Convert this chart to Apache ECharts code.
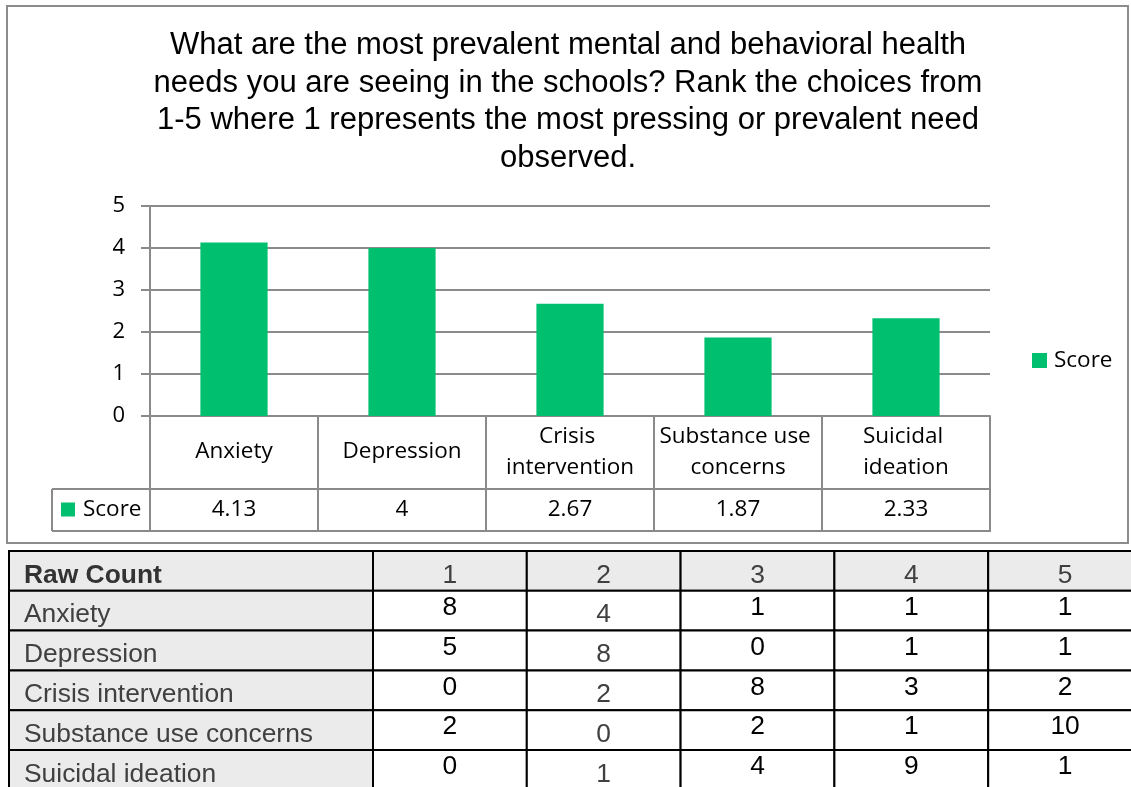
<!DOCTYPE html>
<html>
<head>
<meta charset="utf-8">
<title>Mental and behavioral health needs</title>
<script src="https://cdn.jsdelivr.net/npm/echarts@6/dist/echarts.min.js"></script>
<style>
  html, body { margin: 0; padding: 0; background: #fff; }
  #chart { width: 1131px; height: 787px; }
</style>
</head>
<body>
<div id="chart"></div>
<script>
// ---- data ----
const titleText = 'What are the most prevalent mental and behavioral health\n' +
  'needs you are seeing in the schools? Rank the choices from\n' +
  '1-5 where 1 represents the most pressing or prevalent need\n' +
  'observed.';
const categories = ['Anxiety', 'Depression', 'Crisis intervention', 'Substance use concerns', 'Suicidal ideation'];
const scores = [4.13, 4, 2.67, 1.87, 2.33];
const scoreTicks = [0, 1, 2, 3, 4, 5];

const rawHeader = 'Raw Count';
const rankLabels = ['1', '2', '3', '4', '5'];
const rawRows = ['Anxiety', 'Depression', 'Crisis intervention', 'Substance use concerns', 'Suicidal ideation'];
const rawAnxiety = [8, 4, 1, 1, 1];
const rawDepression = [5, 8, 0, 1, 1];
const rawCrisis = [0, 2, 8, 3, 2];
const rawSubstance = [2, 0, 2, 1, 10];
const rawSuicidal = [0, 1, 4, 9, 1];
const rawCounts = [rawAnxiety, rawDepression, rawCrisis, rawSubstance, rawSuicidal];

// ---- layout / style ----
const W = 1131, H = 787;
const GREEN = '#00BF6F';
const GRID_GRAY = '#8a8a8a';
const CHART_FONT = "'Open Sans', 'Noto Sans', sans-serif";
const TABLE_FONT = "'Liberation Sans', Arial, sans-serif";

const PLOT = { left: 150, top: 206, width: 840, height: 210 };
const NAME_ROW_H = 73;   // category-name row of the data table
const VALUE_ROW_H = 42;  // score row of the data table
const KEY_CELL_LEFT = 52;

// raw-count table: the last column runs past the right edge of the page
const RAW_LEFT = 373, RAW_TOP = 551;
const RAW_COL_W = 153.8, RAW_ROW_H = 39.8;
const LABEL_COL_W = 364;

// cells of the raw-count table, header row first
const cells = [];
cells.push({ c: 0, r: 0, text: rawHeader, label: true, header: true });
rankLabels.forEach((t, i) => cells.push({ c: i, r: 0, text: t, soft: true }));
rawRows.forEach((name, ri) => {
  cells.push({ c: 0, r: ri + 1, text: name, label: true });
  rawCounts[ri].forEach((v, ci) => cells.push({ c: ci, r: ri + 1, text: String(v), soft: ci === 1 }));
});

const chart = echarts.init(document.getElementById('chart'));

const PLOT_BOTTOM = PLOT.top + PLOT.height;
const PLOT_RIGHT = PLOT.left + PLOT.width;

const option = {
  backgroundColor: '#fff',
  animation: false,
  title: {
    text: titleText,
    left: 568,
    top: 27,
    textAlign: 'center',
    padding: 0,
    textStyle: {
      fontFamily: TABLE_FONT,
      fontSize: 31,
      fontWeight: 'normal',
      lineHeight: 37.5,
      color: '#000'
    }
  },
  legend: [
    {
      data: ['Score'],
      left: 1032,
      top: 348.5,
      padding: 0,
      icon: 'rect',
      itemWidth: 15,
      itemHeight: 15,
      textStyle: { fontFamily: CHART_FONT, fontSize: 22.5, lineHeight: 24, color: '#000', padding: [0, 0, 0, 2] }
    },
    {
      data: ['Score'],
      left: 61,
      top: 497.5,
      padding: 0,
      icon: 'rect',
      itemWidth: 14,
      itemHeight: 14,
      selectedMode: false,
      textStyle: { fontFamily: CHART_FONT, fontSize: 22.5, lineHeight: 24, color: '#000', padding: [0, 0, 0, 3] }
    }
  ],
  grid: [
    { left: PLOT.left, top: PLOT.top, width: PLOT.width, height: PLOT.height, containLabel: false },
    { left: RAW_LEFT, top: RAW_TOP, right: 0, bottom: 0, containLabel: false }
  ],
  xAxis: [
    {
      type: 'category',
      gridIndex: 0,
      data: categories,
      position: 'bottom',
      axisLine: { show: true, lineStyle: { color: GRID_GRAY, width: 2 } },
      axisTick: {
        show: true,
        interval: 0,
        length: NAME_ROW_H + VALUE_ROW_H,
        lineStyle: { color: GRID_GRAY, width: 2 }
      },
      axisLabel: {
        interval: 0,
        margin: 36,
        verticalAlign: 'middle',
        width: 158,
        overflow: 'break',
        lineHeight: 31,
        fontFamily: CHART_FONT,
        fontSize: 22.5,
        color: '#000'
      }
    },
    {
      type: 'category',
      gridIndex: 0,
      data: categories,
      position: 'bottom',
      axisLine: { show: false },
      axisTick: { show: false },
      axisLabel: {
        interval: 0,
        margin: NAME_ROW_H + VALUE_ROW_H / 2,
        verticalAlign: 'middle',
        fontFamily: CHART_FONT,
        fontSize: 22.5,
        color: '#000',
        formatter: (v, i) => String(scores[i])
      }
    },
    {
      // rank columns, one unit each, centred on 0..4
      type: 'value',
      gridIndex: 1,
      min: -0.5,
      max: -0.5 + (W - RAW_LEFT) / RAW_COL_W,
      show: false
    }
  ],
  yAxis: [
    {
      type: 'value',
      gridIndex: 0,
      min: scoreTicks[0],
      max: scoreTicks[scoreTicks.length - 1],
      interval: 1,
      axisLine: { show: true, lineStyle: { color: GRID_GRAY, width: 2 } },
      axisTick: { show: true, length: 9, lineStyle: { color: GRID_GRAY, width: 2 } },
      splitLine: { show: true, lineStyle: { color: GRID_GRAY, width: 2 } },
      axisLabel: {
        margin: 25,
        fontFamily: CHART_FONT,
        fontSize: 22,
        color: '#000'
      }
    },
    {
      // table rows: header at 0, then one row per need
      type: 'value',
      gridIndex: 1,
      inverse: true,
      min: -0.5,
      max: -0.5 + (H - RAW_TOP) / RAW_ROW_H,
      show: false
    }
  ],
  series: [
    {
      name: 'Score',
      type: 'bar',
      xAxisIndex: 0,
      yAxisIndex: 0,
      data: scores,
      barWidth: '40%',
      itemStyle: { color: GREEN }
    },
    {
      name: 'Raw Count',
      type: 'custom',
      xAxisIndex: 2,
      yAxisIndex: 1,
      silent: true,
      clip: false,
      data: cells.map(d => [d.c, d.r]),
      renderItem: function (params, api) {
        const d = cells[params.dataIndex];
        const w = api.size([1, 0])[0];
        const h = api.size([0, 1])[1];
        const ctr = api.coord([d.c, d.r]);
        let x0 = ctr[0] - w / 2;
        let cw = w;
        if (d.label) { x0 = x0 - LABEL_COL_W; cw = LABEL_COL_W; }
        const y0 = ctr[1] - h / 2;
        const shaded = d.label || d.r === 0;
        const soft = d.label || d.soft;
        return {
          type: 'group',
          children: [
            {
              type: 'rect',
              shape: { x: x0, y: y0, width: cw, height: h },
              style: { fill: shaded ? '#EBEBEB' : '#fff', stroke: '#000', lineWidth: 2 }
            },
            {
              type: 'text',
              style: {
                text: d.text,
                x: d.label ? x0 + 15 : ctr[0],
                y: ctr[1] + (soft ? 4.5 : -3),
                align: d.label ? 'left' : 'center',
                verticalAlign: 'middle',
                font: (d.header ? 'bold ' : '') + '26.4px ' + TABLE_FONT,
                fill: d.header ? '#333' : (soft ? '#404040' : '#000')
              }
            }
          ]
        };
      }
    }
  ],
  graphic: [
    // outer frame of the chart area
    {
      type: 'rect',
      z: -10,
      shape: { x: 7, y: 6, width: 1121, height: 537 },
      style: { fill: 'none', stroke: '#8c8c8c', lineWidth: 2 }
    },
    // data-table rule lines below the plot
    {
      type: 'line',
      shape: { x1: KEY_CELL_LEFT, y1: PLOT_BOTTOM + NAME_ROW_H, x2: PLOT_RIGHT, y2: PLOT_BOTTOM + NAME_ROW_H },
      style: { stroke: GRID_GRAY, lineWidth: 2 }
    },
    {
      type: 'line',
      shape: { x1: KEY_CELL_LEFT, y1: PLOT_BOTTOM + NAME_ROW_H + VALUE_ROW_H, x2: PLOT_RIGHT + 1, y2: PLOT_BOTTOM + NAME_ROW_H + VALUE_ROW_H },
      style: { stroke: GRID_GRAY, lineWidth: 2 }
    },
    {
      type: 'line',
      shape: { x1: KEY_CELL_LEFT, y1: PLOT_BOTTOM + NAME_ROW_H, x2: KEY_CELL_LEFT, y2: PLOT_BOTTOM + NAME_ROW_H + VALUE_ROW_H },
      style: { stroke: GRID_GRAY, lineWidth: 2 }
    }
  ]
};

chart.setOption(option);
</script>
</body>
</html>
